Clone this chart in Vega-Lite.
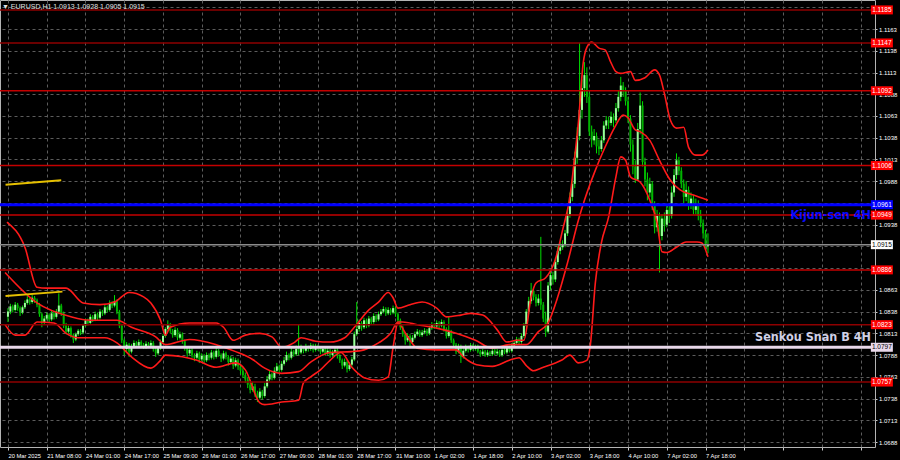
{
"$schema": "https://vega.github.io/schema/vega-lite/v6.json",
"width": 875, "height": 447,
"autosize": {"type": "none"},
"padding": {"left": 0, "top": 0, "right": 25, "bottom": 13},
"background": "#000000",
"config": {"view": {"stroke": "#b4b4b4", "strokeWidth": 1}, "axis": {"labelOverlap": false, "labelFlush": false, "labelBound": false}},
"title": {"text": "▼ EURUSD,H1  1.0913 1.0928 1.0905 1.0915", "anchor": "start", "frame": "group", "offset": -10, "fontSize": 7, "font": "Liberation Sans", "fontWeight": "normal", "color": "#e0e0e0", "dx": 2},
"datasets": {
"candles": [
{"i":0,"o":1.0832,"h":1.0842,"l":1.0826,"c":1.0838},{"i":1,"o":1.0838,"h":1.0847,"l":1.0835,"c":1.0844},{"i":2,"o":1.0844,"h":1.0846,"l":1.0837,"c":1.0840},{"i":3,"o":1.0840,"h":1.0849,"l":1.0838,"c":1.0846},{"i":4,"o":1.0846,"h":1.0848,"l":1.0839,"c":1.0842},{"i":5,"o":1.0842,"h":1.0844,"l":1.0833,"c":1.0837},{"i":6,"o":1.0837,"h":1.0845,"l":1.0835,"c":1.0843},{"i":7,"o":1.0843,"h":1.0851,"l":1.0841,"c":1.0848},{"i":8,"o":1.0848,"h":1.0856,"l":1.0846,"c":1.0852},{"i":9,"o":1.0852,"h":1.0854,"l":1.0846,"c":1.0849},
{"i":10,"o":1.0849,"h":1.0857,"l":1.0847,"c":1.0854},{"i":11,"o":1.0854,"h":1.0856,"l":1.0848,"c":1.0851},{"i":12,"o":1.0851,"h":1.0853,"l":1.0843,"c":1.0846},{"i":13,"o":1.0846,"h":1.0848,"l":1.0832,"c":1.0835},{"i":14,"o":1.0835,"h":1.0837,"l":1.0820,"c":1.0826},{"i":15,"o":1.0826,"h":1.0833,"l":1.0823,"c":1.0830},{"i":16,"o":1.0830,"h":1.0837,"l":1.0828,"c":1.0834},{"i":17,"o":1.0834,"h":1.0836,"l":1.0826,"c":1.0829},{"i":18,"o":1.0829,"h":1.0839,"l":1.0827,"c":1.0836},{"i":19,"o":1.0836,"h":1.0838,"l":1.0829,"c":1.0832},
{"i":20,"o":1.0832,"h":1.0841,"l":1.0830,"c":1.0838},{"i":21,"o":1.0838,"h":1.0859,"l":1.0835,"c":1.0845},{"i":22,"o":1.0845,"h":1.0847,"l":1.0833,"c":1.0836},{"i":23,"o":1.0836,"h":1.0838,"l":1.0819,"c":1.0822},{"i":24,"o":1.0822,"h":1.0825,"l":1.0812,"c":1.0815},{"i":25,"o":1.0815,"h":1.0822,"l":1.0813,"c":1.0819},{"i":26,"o":1.0819,"h":1.0821,"l":1.0808,"c":1.0811},{"i":27,"o":1.0811,"h":1.0813,"l":1.0802,"c":1.0806},{"i":28,"o":1.0806,"h":1.0814,"l":1.0804,"c":1.0812},{"i":29,"o":1.0812,"h":1.0818,"l":1.0810,"c":1.0816},
{"i":30,"o":1.0816,"h":1.0818,"l":1.0811,"c":1.0814},{"i":31,"o":1.0814,"h":1.0824,"l":1.0812,"c":1.0822},{"i":32,"o":1.0822,"h":1.0830,"l":1.0820,"c":1.0828},{"i":33,"o":1.0828,"h":1.0830,"l":1.0822,"c":1.0825},{"i":34,"o":1.0825,"h":1.0835,"l":1.0823,"c":1.0832},{"i":35,"o":1.0832,"h":1.0834,"l":1.0826,"c":1.0829},{"i":36,"o":1.0829,"h":1.0838,"l":1.0827,"c":1.0835},{"i":37,"o":1.0835,"h":1.0837,"l":1.0828,"c":1.0831},{"i":38,"o":1.0831,"h":1.0841,"l":1.0829,"c":1.0838},{"i":39,"o":1.0838,"h":1.0840,"l":1.0833,"c":1.0836},
{"i":40,"o":1.0836,"h":1.0846,"l":1.0834,"c":1.0843},{"i":41,"o":1.0843,"h":1.0845,"l":1.0837,"c":1.0840},{"i":42,"o":1.0840,"h":1.0851,"l":1.0838,"c":1.0848},{"i":43,"o":1.0848,"h":1.0850,"l":1.0842,"c":1.0845},{"i":44,"o":1.0845,"h":1.0857,"l":1.0843,"c":1.0850},{"i":45,"o":1.0850,"h":1.0852,"l":1.0835,"c":1.0838},{"i":46,"o":1.0838,"h":1.0840,"l":1.0819,"c":1.0822},{"i":47,"o":1.0822,"h":1.0824,"l":1.0802,"c":1.0805},{"i":48,"o":1.0805,"h":1.0807,"l":1.0788,"c":1.0795},{"i":49,"o":1.0795,"h":1.0803,"l":1.0792,"c":1.0800},
{"i":50,"o":1.0800,"h":1.0802,"l":1.0786,"c":1.0792},{"i":51,"o":1.0792,"h":1.0801,"l":1.0790,"c":1.0798},{"i":52,"o":1.0798,"h":1.0805,"l":1.0796,"c":1.0802},{"i":53,"o":1.0802,"h":1.0804,"l":1.0797,"c":1.0799},{"i":54,"o":1.0799,"h":1.0806,"l":1.0797,"c":1.0803},{"i":55,"o":1.0803,"h":1.0805,"l":1.0798,"c":1.0800},{"i":56,"o":1.0800,"h":1.0802,"l":1.0795,"c":1.0797},{"i":57,"o":1.0797,"h":1.0804,"l":1.0795,"c":1.0801},{"i":58,"o":1.0801,"h":1.0803,"l":1.0797,"c":1.0799},{"i":59,"o":1.0799,"h":1.0805,"l":1.0797,"c":1.0802},
{"i":60,"o":1.0802,"h":1.0804,"l":1.0792,"c":1.0795},{"i":61,"o":1.0795,"h":1.0797,"l":1.0786,"c":1.0790},{"i":62,"o":1.0790,"h":1.0798,"l":1.0788,"c":1.0796},{"i":63,"o":1.0796,"h":1.0806,"l":1.0794,"c":1.0803},{"i":64,"o":1.0803,"h":1.0812,"l":1.0801,"c":1.0810},{"i":65,"o":1.0810,"h":1.0820,"l":1.0808,"c":1.0818},{"i":66,"o":1.0818,"h":1.0828,"l":1.0816,"c":1.0823},{"i":67,"o":1.0823,"h":1.0825,"l":1.0813,"c":1.0816},{"i":68,"o":1.0816,"h":1.0818,"l":1.0808,"c":1.0811},{"i":69,"o":1.0811,"h":1.0820,"l":1.0809,"c":1.0817},
{"i":70,"o":1.0817,"h":1.0819,"l":1.0805,"c":1.0808},{"i":71,"o":1.0808,"h":1.0815,"l":1.0806,"c":1.0812},{"i":72,"o":1.0812,"h":1.0814,"l":1.0801,"c":1.0804},{"i":73,"o":1.0804,"h":1.0806,"l":1.0793,"c":1.0796},{"i":74,"o":1.0796,"h":1.0798,"l":1.0786,"c":1.0790},{"i":75,"o":1.0790,"h":1.0797,"l":1.0788,"c":1.0794},{"i":76,"o":1.0794,"h":1.0796,"l":1.0785,"c":1.0788},{"i":77,"o":1.0788,"h":1.0790,"l":1.0781,"c":1.0785},{"i":78,"o":1.0785,"h":1.0793,"l":1.0783,"c":1.0790},{"i":79,"o":1.0790,"h":1.0792,"l":1.0779,"c":1.0783},
{"i":80,"o":1.0783,"h":1.0790,"l":1.0781,"c":1.0787},{"i":81,"o":1.0787,"h":1.0789,"l":1.0779,"c":1.0782},{"i":82,"o":1.0782,"h":1.0791,"l":1.0780,"c":1.0788},{"i":83,"o":1.0788,"h":1.0790,"l":1.0782,"c":1.0785},{"i":84,"o":1.0785,"h":1.0794,"l":1.0783,"c":1.0791},{"i":85,"o":1.0791,"h":1.0793,"l":1.0783,"c":1.0786},{"i":86,"o":1.0786,"h":1.0797,"l":1.0784,"c":1.0793},{"i":87,"o":1.0793,"h":1.0795,"l":1.0786,"c":1.0788},{"i":88,"o":1.0788,"h":1.0790,"l":1.0780,"c":1.0784},{"i":89,"o":1.0784,"h":1.0793,"l":1.0782,"c":1.0790},
{"i":90,"o":1.0790,"h":1.0792,"l":1.0783,"c":1.0786},{"i":91,"o":1.0786,"h":1.0788,"l":1.0776,"c":1.0780},{"i":92,"o":1.0780,"h":1.0787,"l":1.0778,"c":1.0784},{"i":93,"o":1.0784,"h":1.0786,"l":1.0772,"c":1.0776},{"i":94,"o":1.0776,"h":1.0785,"l":1.0774,"c":1.0782},{"i":95,"o":1.0782,"h":1.0784,"l":1.0771,"c":1.0775},{"i":96,"o":1.0775,"h":1.0777,"l":1.0766,"c":1.0770},{"i":97,"o":1.0770,"h":1.0773,"l":1.0762,"c":1.0765},{"i":98,"o":1.0765,"h":1.0768,"l":1.0756,"c":1.0760},{"i":99,"o":1.0760,"h":1.0763,"l":1.0750,"c":1.0754},
{"i":100,"o":1.0754,"h":1.0757,"l":1.0744,"c":1.0748},{"i":101,"o":1.0748,"h":1.0757,"l":1.0746,"c":1.0752},{"i":102,"o":1.0752,"h":1.0755,"l":1.0740,"c":1.0744},{"i":103,"o":1.0744,"h":1.0747,"l":1.0734,"c":1.0739},{"i":104,"o":1.0739,"h":1.0750,"l":1.0737,"c":1.0746},{"i":105,"o":1.0746,"h":1.0748,"l":1.0737,"c":1.0741},{"i":106,"o":1.0741,"h":1.0756,"l":1.0739,"c":1.0752},{"i":107,"o":1.0752,"h":1.0764,"l":1.0750,"c":1.0760},{"i":108,"o":1.0760,"h":1.0770,"l":1.0758,"c":1.0766},{"i":109,"o":1.0766,"h":1.0768,"l":1.0759,"c":1.0762},
{"i":110,"o":1.0762,"h":1.0774,"l":1.0760,"c":1.0770},{"i":111,"o":1.0770,"h":1.0779,"l":1.0768,"c":1.0775},{"i":112,"o":1.0775,"h":1.0777,"l":1.0768,"c":1.0771},{"i":113,"o":1.0771,"h":1.0781,"l":1.0769,"c":1.0778},{"i":114,"o":1.0778,"h":1.0786,"l":1.0776,"c":1.0782},{"i":115,"o":1.0782,"h":1.0792,"l":1.0780,"c":1.0788},{"i":116,"o":1.0788,"h":1.0790,"l":1.0782,"c":1.0785},{"i":117,"o":1.0785,"h":1.0796,"l":1.0783,"c":1.0792},{"i":118,"o":1.0792,"h":1.0794,"l":1.0786,"c":1.0789},{"i":119,"o":1.0789,"h":1.0799,"l":1.0787,"c":1.0795},
{"i":120,"o":1.0795,"h":1.0823,"l":1.0788,"c":1.0791},{"i":121,"o":1.0791,"h":1.0800,"l":1.0789,"c":1.0796},{"i":122,"o":1.0796,"h":1.0798,"l":1.0790,"c":1.0793},{"i":123,"o":1.0793,"h":1.0801,"l":1.0791,"c":1.0797},{"i":124,"o":1.0797,"h":1.0799,"l":1.0792,"c":1.0795},{"i":125,"o":1.0795,"h":1.0802,"l":1.0793,"c":1.0799},{"i":126,"o":1.0799,"h":1.0801,"l":1.0791,"c":1.0794},{"i":127,"o":1.0794,"h":1.0801,"l":1.0792,"c":1.0798},{"i":128,"o":1.0798,"h":1.0800,"l":1.0793,"c":1.0796},{"i":129,"o":1.0796,"h":1.0798,"l":1.0789,"c":1.0792},
{"i":130,"o":1.0792,"h":1.0798,"l":1.0790,"c":1.0795},{"i":131,"o":1.0795,"h":1.0797,"l":1.0787,"c":1.0790},{"i":132,"o":1.0790,"h":1.0796,"l":1.0788,"c":1.0793},{"i":133,"o":1.0793,"h":1.0795,"l":1.0785,"c":1.0788},{"i":134,"o":1.0788,"h":1.0794,"l":1.0786,"c":1.0791},{"i":135,"o":1.0791,"h":1.0797,"l":1.0789,"c":1.0794},{"i":136,"o":1.0794,"h":1.0796,"l":1.0784,"c":1.0787},{"i":137,"o":1.0787,"h":1.0789,"l":1.0779,"c":1.0782},{"i":138,"o":1.0782,"h":1.0784,"l":1.0772,"c":1.0776},{"i":139,"o":1.0776,"h":1.0784,"l":1.0774,"c":1.0780},
{"i":140,"o":1.0780,"h":1.0782,"l":1.0768,"c":1.0772},{"i":141,"o":1.0772,"h":1.0780,"l":1.0770,"c":1.0777},{"i":142,"o":1.0777,"h":1.0786,"l":1.0775,"c":1.0783},{"i":143,"o":1.0783,"h":1.0815,"l":1.0781,"c":1.0812},{"i":144,"o":1.0812,"h":1.0849,"l":1.0810,"c":1.0818},{"i":145,"o":1.0818,"h":1.0829,"l":1.0815,"c":1.0825},{"i":146,"o":1.0825,"h":1.0827,"l":1.0816,"c":1.0820},{"i":147,"o":1.0820,"h":1.0831,"l":1.0818,"c":1.0828},{"i":148,"o":1.0828,"h":1.0830,"l":1.0819,"c":1.0822},{"i":149,"o":1.0822,"h":1.0833,"l":1.0820,"c":1.0830},
{"i":150,"o":1.0830,"h":1.0832,"l":1.0823,"c":1.0826},{"i":151,"o":1.0826,"h":1.0836,"l":1.0824,"c":1.0833},{"i":152,"o":1.0833,"h":1.0835,"l":1.0826,"c":1.0829},{"i":153,"o":1.0829,"h":1.0838,"l":1.0827,"c":1.0835},{"i":154,"o":1.0835,"h":1.0841,"l":1.0833,"c":1.0838},{"i":155,"o":1.0838,"h":1.0844,"l":1.0836,"c":1.0841},{"i":156,"o":1.0841,"h":1.0843,"l":1.0833,"c":1.0836},{"i":157,"o":1.0836,"h":1.0843,"l":1.0834,"c":1.0840},{"i":158,"o":1.0840,"h":1.0842,"l":1.0834,"c":1.0837},{"i":159,"o":1.0837,"h":1.0845,"l":1.0835,"c":1.0842},
{"i":160,"o":1.0842,"h":1.0844,"l":1.0832,"c":1.0835},{"i":161,"o":1.0835,"h":1.0837,"l":1.0825,"c":1.0828},{"i":162,"o":1.0828,"h":1.0830,"l":1.0817,"c":1.0820},{"i":163,"o":1.0820,"h":1.0822,"l":1.0809,"c":1.0812},{"i":164,"o":1.0812,"h":1.0814,"l":1.0800,"c":1.0805},{"i":165,"o":1.0805,"h":1.0813,"l":1.0803,"c":1.0810},{"i":166,"o":1.0810,"h":1.0812,"l":1.0797,"c":1.0803},{"i":167,"o":1.0803,"h":1.0811,"l":1.0801,"c":1.0808},{"i":168,"o":1.0808,"h":1.0815,"l":1.0806,"c":1.0812},{"i":169,"o":1.0812,"h":1.0818,"l":1.0810,"c":1.0815},
{"i":170,"o":1.0815,"h":1.0817,"l":1.0809,"c":1.0811},{"i":171,"o":1.0811,"h":1.0817,"l":1.0809,"c":1.0814},{"i":172,"o":1.0814,"h":1.0819,"l":1.0812,"c":1.0816},{"i":173,"o":1.0816,"h":1.0818,"l":1.0810,"c":1.0813},{"i":174,"o":1.0813,"h":1.0822,"l":1.0811,"c":1.0819},{"i":175,"o":1.0819,"h":1.0826,"l":1.0817,"c":1.0823},{"i":176,"o":1.0823,"h":1.0825,"l":1.0818,"c":1.0821},{"i":177,"o":1.0821,"h":1.0828,"l":1.0819,"c":1.0825},{"i":178,"o":1.0825,"h":1.0827,"l":1.0819,"c":1.0822},{"i":179,"o":1.0822,"h":1.0829,"l":1.0820,"c":1.0826},
{"i":180,"o":1.0826,"h":1.0828,"l":1.0815,"c":1.0818},{"i":181,"o":1.0818,"h":1.0820,"l":1.0807,"c":1.0810},{"i":182,"o":1.0810,"h":1.0832,"l":1.0808,"c":1.0815},{"i":183,"o":1.0815,"h":1.0817,"l":1.0802,"c":1.0805},{"i":184,"o":1.0805,"h":1.0807,"l":1.0797,"c":1.0800},{"i":185,"o":1.0800,"h":1.0802,"l":1.0789,"c":1.0792},{"i":186,"o":1.0792,"h":1.0801,"l":1.0790,"c":1.0798},{"i":187,"o":1.0798,"h":1.0800,"l":1.0779,"c":1.0786},{"i":188,"o":1.0786,"h":1.0796,"l":1.0784,"c":1.0793},{"i":189,"o":1.0793,"h":1.0800,"l":1.0791,"c":1.0797},
{"i":190,"o":1.0797,"h":1.0799,"l":1.0791,"c":1.0794},{"i":191,"o":1.0794,"h":1.0802,"l":1.0792,"c":1.0799},{"i":192,"o":1.0799,"h":1.0801,"l":1.0793,"c":1.0795},{"i":193,"o":1.0795,"h":1.0800,"l":1.0793,"c":1.0798},{"i":194,"o":1.0798,"h":1.0800,"l":1.0790,"c":1.0792},{"i":195,"o":1.0792,"h":1.0794,"l":1.0786,"c":1.0789},{"i":196,"o":1.0789,"h":1.0795,"l":1.0787,"c":1.0792},{"i":197,"o":1.0792,"h":1.0794,"l":1.0786,"c":1.0788},{"i":198,"o":1.0788,"h":1.0794,"l":1.0786,"c":1.0791},{"i":199,"o":1.0791,"h":1.0793,"l":1.0787,"c":1.0789},
{"i":200,"o":1.0789,"h":1.0795,"l":1.0787,"c":1.0793},{"i":201,"o":1.0793,"h":1.0795,"l":1.0788,"c":1.0790},{"i":202,"o":1.0790,"h":1.0795,"l":1.0788,"c":1.0792},{"i":203,"o":1.0792,"h":1.0794,"l":1.0786,"c":1.0788},{"i":204,"o":1.0788,"h":1.0797,"l":1.0786,"c":1.0794},{"i":205,"o":1.0794,"h":1.0796,"l":1.0789,"c":1.0791},{"i":206,"o":1.0791,"h":1.0800,"l":1.0789,"c":1.0797},{"i":207,"o":1.0797,"h":1.0799,"l":1.0791,"c":1.0793},{"i":208,"o":1.0793,"h":1.0802,"l":1.0791,"c":1.0799},{"i":209,"o":1.0799,"h":1.0805,"l":1.0797,"c":1.0802},
{"i":210,"o":1.0802,"h":1.0809,"l":1.0800,"c":1.0806},{"i":211,"o":1.0806,"h":1.0808,"l":1.0800,"c":1.0803},{"i":212,"o":1.0803,"h":1.0813,"l":1.0801,"c":1.0810},{"i":213,"o":1.0810,"h":1.0825,"l":1.0808,"c":1.0822},{"i":214,"o":1.0822,"h":1.0841,"l":1.0820,"c":1.0838},{"i":215,"o":1.0838,"h":1.0855,"l":1.0835,"c":1.0850},{"i":216,"o":1.0850,"h":1.0871,"l":1.0847,"c":1.0862},{"i":217,"o":1.0862,"h":1.0866,"l":1.0851,"c":1.0855},{"i":218,"o":1.0855,"h":1.0858,"l":1.0844,"c":1.0848},{"i":219,"o":1.0848,"h":1.0858,"l":1.0845,"c":1.0853},
{"i":220,"o":1.0853,"h":1.0924,"l":1.0840,"c":1.0846},{"i":221,"o":1.0846,"h":1.0849,"l":1.0826,"c":1.0830},{"i":222,"o":1.0830,"h":1.0838,"l":1.0809,"c":1.0815},{"i":223,"o":1.0815,"h":1.0872,"l":1.0813,"c":1.0868},{"i":224,"o":1.0868,"h":1.0886,"l":1.0863,"c":1.0880},{"i":225,"o":1.0880,"h":1.0884,"l":1.0869,"c":1.0875},{"i":226,"o":1.0875,"h":1.0900,"l":1.0872,"c":1.0895},{"i":227,"o":1.0895,"h":1.0913,"l":1.0892,"c":1.0908},{"i":228,"o":1.0908,"h":1.0918,"l":1.0904,"c":1.0912},{"i":229,"o":1.0912,"h":1.0920,"l":1.0909,"c":1.0915},
{"i":230,"o":1.0915,"h":1.0932,"l":1.0912,"c":1.0928},{"i":231,"o":1.0928,"h":1.0955,"l":1.0925,"c":1.0950},{"i":232,"o":1.0950,"h":1.0975,"l":1.0946,"c":1.0970},{"i":233,"o":1.0970,"h":1.0990,"l":1.0965,"c":1.0985},{"i":234,"o":1.0985,"h":1.1022,"l":1.0980,"c":1.1015},{"i":235,"o":1.1015,"h":1.1050,"l":1.1008,"c":1.1040},{"i":236,"o":1.1040,"h":1.1147,"l":1.1035,"c":1.1070},{"i":237,"o":1.1070,"h":1.1105,"l":1.1060,"c":1.1095},{"i":238,"o":1.1095,"h":1.1125,"l":1.1085,"c":1.1110},{"i":239,"o":1.1110,"h":1.1119,"l":1.1078,"c":1.1085},
{"i":240,"o":1.1085,"h":1.1090,"l":1.1040,"c":1.1045},{"i":241,"o":1.1045,"h":1.1052,"l":1.1027,"c":1.1035},{"i":242,"o":1.1035,"h":1.1048,"l":1.1030,"c":1.1040},{"i":243,"o":1.1040,"h":1.1044,"l":1.1020,"c":1.1028},{"i":244,"o":1.1028,"h":1.1036,"l":1.1018,"c":1.1025},{"i":245,"o":1.1025,"h":1.1040,"l":1.1022,"c":1.1035},{"i":246,"o":1.1035,"h":1.1057,"l":1.1032,"c":1.1052},{"i":247,"o":1.1052,"h":1.1063,"l":1.1048,"c":1.1058},{"i":248,"o":1.1058,"h":1.1062,"l":1.1048,"c":1.1055},{"i":249,"o":1.1055,"h":1.1068,"l":1.1052,"c":1.1062},
{"i":250,"o":1.1062,"h":1.1066,"l":1.1050,"c":1.1058},{"i":251,"o":1.1058,"h":1.1078,"l":1.1055,"c":1.1072},{"i":252,"o":1.1072,"h":1.1092,"l":1.1068,"c":1.1085},{"i":253,"o":1.1085,"h":1.1108,"l":1.1080,"c":1.1098},{"i":254,"o":1.1098,"h":1.1102,"l":1.1085,"c":1.1092},{"i":255,"o":1.1092,"h":1.1096,"l":1.1075,"c":1.1080},{"i":256,"o":1.1080,"h":1.1085,"l":1.1055,"c":1.1060},{"i":257,"o":1.1060,"h":1.1064,"l":1.1022,"c":1.1030},{"i":258,"o":1.1030,"h":1.1036,"l":1.0996,"c":1.1005},{"i":259,"o":1.1005,"h":1.1012,"l":1.0986,"c":1.0990},
{"i":260,"o":1.0990,"h":1.1055,"l":1.0988,"c":1.1048},{"i":261,"o":1.1048,"h":1.1090,"l":1.1042,"c":1.1075},{"i":262,"o":1.1075,"h":1.1080,"l":1.1005,"c":1.1010},{"i":263,"o":1.1010,"h":1.1015,"l":1.0982,"c":1.0990},{"i":264,"o":1.0990,"h":1.0998,"l":1.0966,"c":1.0975},{"i":265,"o":1.0975,"h":1.0992,"l":1.0970,"c":1.0985},{"i":266,"o":1.0985,"h":1.0988,"l":1.0955,"c":1.0960},{"i":267,"o":1.0960,"h":1.0965,"l":1.0928,"c":1.0935},{"i":268,"o":1.0935,"h":1.0955,"l":1.0930,"c":1.0948},{"i":269,"o":1.0948,"h":1.0952,"l":1.0883,"c":1.0925},
{"i":270,"o":1.0925,"h":1.0950,"l":1.0920,"c":1.0945},{"i":271,"o":1.0945,"h":1.0952,"l":1.0930,"c":1.0938},{"i":272,"o":1.0938,"h":1.0962,"l":1.0935,"c":1.0955},{"i":273,"o":1.0955,"h":1.0960,"l":1.0940,"c":1.0948},{"i":274,"o":1.0948,"h":1.0982,"l":1.0945,"c":1.0975},{"i":275,"o":1.0975,"h":1.1002,"l":1.0970,"c":1.0995},{"i":276,"o":1.0995,"h":1.1020,"l":1.0990,"c":1.1012},{"i":277,"o":1.1012,"h":1.1016,"l":1.0995,"c":1.1000},{"i":278,"o":1.1000,"h":1.1004,"l":1.0980,"c":1.0985},{"i":279,"o":1.0985,"h":1.0990,"l":1.0962,"c":1.0970},
{"i":280,"o":1.0970,"h":1.0988,"l":1.0965,"c":1.0978},{"i":281,"o":1.0978,"h":1.0982,"l":1.0955,"c":1.0960},{"i":282,"o":1.0960,"h":1.0975,"l":1.0956,"c":1.0968},{"i":283,"o":1.0968,"h":1.0972,"l":1.0950,"c":1.0955},{"i":284,"o":1.0955,"h":1.0968,"l":1.0950,"c":1.0962},{"i":285,"o":1.0962,"h":1.0966,"l":1.0943,"c":1.0948},{"i":286,"o":1.0948,"h":1.0955,"l":1.0935,"c":1.0940},{"i":287,"o":1.0940,"h":1.0944,"l":1.0922,"c":1.0928},{"i":288,"o":1.0928,"h":1.0932,"l":1.0910,"c":1.0913},{"i":289,"o":1.0913,"h":1.0928,"l":1.0905,"c":1.0915}
],
"bands": [
{"i":-0.4,"p":1.0941,"s":"u"},{"i":7,"p":1.0912,"s":"u"},{"i":12,"p":1.0866,"s":"u"},{"i":16,"p":1.0865,"s":"u"},{"i":24,"p":1.0865,"s":"u"},{"i":31,"p":1.0848,"s":"u"},{"i":38,"p":1.0846,"s":"u"},{"i":44,"p":1.0849,"s":"u"},{"i":50,"p":1.0860,"s":"u"},{"i":56,"p":1.0855,"s":"u"},{"i":59,"p":1.0848,"s":"u"},{"i":63,"p":1.0828,"s":"u"},{"i":65,"p":1.0811,"s":"u"},{"i":67,"p":1.0820,"s":"u"},{"i":75,"p":1.0825,"s":"u"},{"i":86,"p":1.0825,"s":"u"},{"i":89,"p":1.0820,"s":"u"},{"i":93,"p":1.0805,"s":"u"},{"i":98,"p":1.0811,"s":"u"},{"i":104,"p":1.0813,"s":"u"},{"i":109,"p":1.0809,"s":"u"},{"i":113,"p":1.0797,"s":"u"},{"i":118,"p":1.0802,"s":"u"},{"i":121,"p":1.0808,"s":"u"},{"i":127,"p":1.0804,"s":"u"},{"i":133,"p":1.0803,"s":"u"},{"i":139,"p":1.0808,"s":"u"},{"i":143,"p":1.0820,"s":"u"},{"i":149,"p":1.0840,"s":"u"},{"i":153,"p":1.0849,"s":"u"},{"i":157,"p":1.0860,"s":"u"},{"i":159,"p":1.0854,"s":"u"},{"i":161,"p":1.0842,"s":"u"},{"i":166,"p":1.0846,"s":"u"},{"i":171,"p":1.0849,"s":"u"},{"i":177,"p":1.0842,"s":"u"},{"i":181,"p":1.0832,"s":"u"},{"i":187,"p":1.0834,"s":"u"},{"i":191,"p":1.0836,"s":"u"},{"i":196,"p":1.0834,"s":"u"},{"i":202,"p":1.0817,"s":"u"},{"i":206,"p":1.0803,"s":"u"},{"i":210,"p":1.0805,"s":"u"},{"i":213,"p":1.0805,"s":"u"},{"i":216,"p":1.0855,"s":"u"},{"i":218,"p":1.0871,"s":"u"},{"i":222,"p":1.0877,"s":"u"},{"i":226,"p":1.0898,"s":"u"},{"i":229,"p":1.0932,"s":"u"},{"i":232,"p":1.0970,"s":"u"},{"i":234,"p":1.1016,"s":"u"},{"i":235.5,"p":1.1055,"s":"u"},{"i":237.5,"p":1.1124,"s":"u"},{"i":239,"p":1.1142,"s":"u"},{"i":241,"p":1.1148,"s":"u"},{"i":244,"p":1.1141,"s":"u"},{"i":246.5,"p":1.1139,"s":"u"},{"i":249,"p":1.1124,"s":"u"},{"i":251,"p":1.1114,"s":"u"},{"i":253,"p":1.1112,"s":"u"},{"i":257,"p":1.1114,"s":"u"},{"i":259,"p":1.1104,"s":"u"},{"i":263,"p":1.1107,"s":"u"},{"i":267,"p":1.1116,"s":"u"},{"i":269,"p":1.1110,"s":"u"},{"i":271,"p":1.1089,"s":"u"},{"i":273.5,"p":1.1058,"s":"u"},{"i":276,"p":1.1049,"s":"u"},{"i":279,"p":1.1050,"s":"u"},{"i":281,"p":1.1027,"s":"u"},{"i":284,"p":1.1018,"s":"u"},{"i":286.5,"p":1.1018,"s":"u"},{"i":289,"p":1.1024,"s":"u"},
{"i":-1.2,"p":1.0883,"s":"m"},{"i":12,"p":1.0848,"s":"m"},{"i":26,"p":1.0832,"s":"m"},{"i":34,"p":1.0828,"s":"m"},{"i":45,"p":1.0828,"s":"m"},{"i":51,"p":1.0820,"s":"m"},{"i":61,"p":1.0809,"s":"m"},{"i":65,"p":1.0800,"s":"m"},{"i":75,"p":1.0806,"s":"m"},{"i":86,"p":1.0800,"s":"m"},{"i":94,"p":1.0792,"s":"m"},{"i":101,"p":1.0783,"s":"m"},{"i":106,"p":1.0773,"s":"m"},{"i":113,"p":1.0767,"s":"m"},{"i":120,"p":1.0769,"s":"m"},{"i":125,"p":1.0780,"s":"m"},{"i":133,"p":1.0791,"s":"m"},{"i":142,"p":1.0792,"s":"m"},{"i":147,"p":1.0794,"s":"m"},{"i":153,"p":1.0802,"s":"m"},{"i":158,"p":1.0813,"s":"m"},{"i":161,"p":1.0826,"s":"m"},{"i":163,"p":1.0826,"s":"m"},{"i":169,"p":1.0823,"s":"m"},{"i":177,"p":1.0819,"s":"m"},{"i":185,"p":1.0813,"s":"m"},{"i":193,"p":1.0805,"s":"m"},{"i":200,"p":1.0796,"s":"m"},{"i":207,"p":1.0800,"s":"m"},{"i":214,"p":1.0800,"s":"m"},{"i":219,"p":1.0815,"s":"m"},{"i":223,"p":1.0825,"s":"m"},{"i":227,"p":1.0855,"s":"m"},{"i":231,"p":1.0894,"s":"m"},{"i":235.5,"p":1.0943,"s":"m"},{"i":238,"p":1.0966,"s":"m"},{"i":242,"p":1.0997,"s":"m"},{"i":246.5,"p":1.1027,"s":"m"},{"i":250.5,"p":1.1050,"s":"m"},{"i":254,"p":1.1064,"s":"m"},{"i":256,"p":1.1061,"s":"m"},{"i":259,"p":1.1047,"s":"m"},{"i":261,"p":1.1045,"s":"m"},{"i":265,"p":1.1035,"s":"m"},{"i":269,"p":1.1012,"s":"m"},{"i":273.5,"p":1.0989,"s":"m"},{"i":277.5,"p":1.0978,"s":"m"},{"i":283,"p":1.0972,"s":"m"},{"i":289,"p":1.0966,"s":"m"},
{"i":-1.2,"p":1.0823,"s":"l"},{"i":3,"p":1.0811,"s":"l"},{"i":7,"p":1.0811,"s":"l"},{"i":12,"p":1.0826,"s":"l"},{"i":19,"p":1.0825,"s":"l"},{"i":24,"p":1.0813,"s":"l"},{"i":29,"p":1.0808,"s":"l"},{"i":40,"p":1.0808,"s":"l"},{"i":45,"p":1.0802,"s":"l"},{"i":51,"p":1.0786,"s":"l"},{"i":59,"p":1.0773,"s":"l"},{"i":63,"p":1.0782,"s":"l"},{"i":65,"p":1.0788,"s":"l"},{"i":72,"p":1.0786,"s":"l"},{"i":78,"p":1.0782,"s":"l"},{"i":86,"p":1.0774,"s":"l"},{"i":94,"p":1.0779,"s":"l"},{"i":98,"p":1.0771,"s":"l"},{"i":104,"p":1.0733,"s":"l"},{"i":106,"p":1.0731,"s":"l"},{"i":113,"p":1.0734,"s":"l"},{"i":120,"p":1.0736,"s":"l"},{"i":122,"p":1.0756,"s":"l"},{"i":125,"p":1.0763,"s":"l"},{"i":129,"p":1.0771,"s":"l"},{"i":133,"p":1.0782,"s":"l"},{"i":137.5,"p":1.0791,"s":"l"},{"i":142,"p":1.0774,"s":"l"},{"i":144.5,"p":1.0767,"s":"l"},{"i":147,"p":1.0762,"s":"l"},{"i":153,"p":1.0759,"s":"l"},{"i":157,"p":1.0763,"s":"l"},{"i":159,"p":1.0797,"s":"l"},{"i":161,"p":1.0825,"s":"l"},{"i":165,"p":1.0809,"s":"l"},{"i":169,"p":1.0796,"s":"l"},{"i":177,"p":1.0794,"s":"l"},{"i":185,"p":1.0794,"s":"l"},{"i":188,"p":1.0786,"s":"l"},{"i":193.5,"p":1.0777,"s":"l"},{"i":200,"p":1.0775,"s":"l"},{"i":207,"p":1.0782,"s":"l"},{"i":211,"p":1.0785,"s":"l"},{"i":214,"p":1.0776,"s":"l"},{"i":217,"p":1.0770,"s":"l"},{"i":220,"p":1.0773,"s":"l"},{"i":228.5,"p":1.0782,"s":"l"},{"i":232,"p":1.0788,"s":"l"},{"i":235.5,"p":1.0779,"s":"l"},{"i":239,"p":1.0782,"s":"l"},{"i":240.5,"p":1.0801,"s":"l"},{"i":242.5,"p":1.0871,"s":"l"},{"i":245,"p":1.0917,"s":"l"},{"i":248,"p":1.0947,"s":"l"},{"i":251,"p":1.0993,"s":"l"},{"i":253,"p":1.1016,"s":"l"},{"i":255,"p":1.1012,"s":"l"},{"i":257,"p":1.0993,"s":"l"},{"i":261,"p":1.0987,"s":"l"},{"i":265,"p":1.0966,"s":"l"},{"i":268,"p":1.0940,"s":"l"},{"i":270,"p":1.0907,"s":"l"},{"i":272,"p":1.0906,"s":"l"},{"i":276,"p":1.0912,"s":"l"},{"i":280,"p":1.0918,"s":"l"},{"i":284.5,"p":1.0918,"s":"l"},{"i":286.5,"p":1.0917,"s":"l"},{"i":289,"p":1.0901,"s":"l"}
],
"yellow": [
{"i":-1.0,"p":1.0984,"s":"a"},{"i":22,"p":1.0989,"s":"a"},
{"i":-1.0,"p":1.0856,"s":"b"},{"i":22.5,"p":1.0861,"s":"b"}
],
"levels": [
{"p":1.1185,"k":"red2","b":"r","t":"1.1185"},
{"p":1.1147,"k":"red2","b":"r","t":"1.1147"},
{"p":1.1092,"k":"red","b":"r","t":"1.1092"},
{"p":1.1006,"k":"red","b":"r","t":"1.1006"},
{"p":1.0961,"k":"kijun","b":"b","t":"1.0961"},
{"p":1.0949,"k":"red","b":"r","t":"1.0949"},
{"p":1.0915,"k":"bid","b":"w","t":"1.0915"},
{"p":1.0886,"k":"red","b":"r","t":"1.0886"},
{"p":1.0823,"k":"red2","b":"r","t":"1.0823"},
{"p":1.0797,"k":"senkou","b":"s","t":"1.0797"},
{"p":1.0757,"k":"red2","b":"r","t":"1.0757"}
],
"texts": [
{"t":"Kijun-sen 4H","p":1.0961,"k":"kijun"},
{"t":"Senkou Snan B 4H","p":1.0797,"k":"senkou"}
]
},
"layer": [
{
"data": {"name": "candles"},
"mark": {"type": "rule", "strokeWidth": 1},
"encoding": {
"x": {"field": "i", "type": "quantitative", "title": null, "scale": {"domain": [-1.22, 355.9], "nice": false, "zero": false},
"axis": {"values": [0,16,32,48,64,80,96,112,128,144,160,176,192,208,224,240,256,272,288,304,320,336,352], "tickCount": 200,
"labelExpr": "['20 Mar 2025','21 Mar 08:00','24 Mar 01:00','24 Mar 17:00','25 Mar 09:00','26 Mar 01:00','26 Mar 17:00','27 Mar 09:00','28 Mar 01:00','28 Mar 17:00','31 Mar 10:00','1 Apr 02:00','1 Apr 18:00','2 Apr 10:00','3 Apr 02:00','3 Apr 18:00','4 Apr 10:00','7 Apr 02:00','7 Apr 18:00'][round(datum.value/16)] || ''",
"title": null, "grid": true, "gridColor": "#5c5c5c", "gridDash": [3, 3], "gridWidth": 1, "domain": false,
"ticks": true, "tickColor": "#c8c8c8", "tickSize": 3, "labelColor": "#ffffff", "labelFont": "Liberation Sans", "labelFontSize": 5.8,
"labelAlign": "left", "labelPadding": 2, "labelFlush": false, "labelOverlap": false, "labelBound": false}},
"y": {"field": "l", "type": "quantitative", "title": null, "scale": {"domain": [1.06823, 1.11964], "nice": false, "zero": false},
"axis": {"orient": "right", "values": [1.0688,1.0713,1.0738,1.0763,1.0788,1.0813,1.0838,1.0863,1.0888,1.0913,1.0938,1.0963,1.0988,1.1013,1.1038,1.1063,1.1088,1.1113,1.1138,1.1163,1.1188], "tickCount": 200,
"labelExpr": "(abs(datum.value-1.1188)<0.0001 || abs(datum.value-1.0963)<0.0001 || abs(datum.value-1.0913)<0.0001 || abs(datum.value-1.0888)<0.0001) ? '' : format(datum.value, '.4f')",
"title": null, "grid": true, "gridColor": "#5c5c5c", "gridDash": [3, 3], "gridWidth": 1, "domain": false,
"tickColor": "#c8c8c8", "tickSize": 2, "labelColor": "#ffffff", "labelFont": "Liberation Sans", "labelFontSize": 6, "labelPadding": 1.5, "labelOverlap": false, "labelFlush": false, "labelBound": false}},
"y2": {"field": "h"},
"color": {"value": "#00e000"}
}
},
{
"data": {"name": "candles"},
"mark": {"type": "bar", "size": 2},
"encoding": {
"x": {"field": "i", "type": "quantitative", "title": null},
"y": {"field": "o", "type": "quantitative", "title": null},
"y2": {"field": "c"},
"color": {"condition": {"test": "datum.c >= datum.o", "value": "#9cff9c"}, "value": "#00b400"}
}
},
{
"data": {"name": "bands"},
"mark": {"type": "line", "strokeWidth": 1.6, "color": "#ff1a1a", "interpolate": "monotone"},
"encoding": {
"x": {"field": "i", "type": "quantitative", "title": null},
"y": {"field": "p", "type": "quantitative", "title": null},
"detail": {"field": "s"}
}
},
{
"data": {"name": "yellow"},
"mark": {"type": "line", "strokeWidth": 2, "color": "#e6c000"},
"encoding": {
"x": {"field": "i", "type": "quantitative", "title": null},
"y": {"field": "p", "type": "quantitative", "title": null},
"detail": {"field": "s"}
}
},
{
"data": {"name": "levels"},
"mark": {"type": "rule"},
"encoding": {
"y": {"field": "p", "type": "quantitative", "title": null},
"color": {"condition": [
{"test": "datum.k == 'kijun'", "value": "#0000ff"},
{"test": "datum.k == 'senkou'", "value": "#e8d8ea"},
{"test": "datum.k == 'bid'", "value": "#8c8c8c"},
{"test": "datum.k == 'red2'", "value": "#8e0000"}
], "value": "#c40000"},
"strokeWidth": {"condition": {"test": "datum.k == 'kijun' || datum.k == 'senkou'", "value": 3}, "value": 1.5}
}
},
{
"data": {"name": "texts"},
"transform": [{"filter": "datum.k == 'kijun'"}],
"mark": {"type": "text", "align": "right", "baseline": "alphabetic", "dy": 14, "fontSize": 12.5, "fontWeight": "bold", "font": "Liberation Sans Narrow, DejaVu Sans Condensed, Liberation Sans", "color": "#0a0aff"},
"encoding": {
"x": {"datum": 356.3, "type": "quantitative", "title": null},
"y": {"field": "p", "type": "quantitative", "title": null},
"text": {"field": "t"}
}
},
{
"data": {"name": "texts"},
"transform": [{"filter": "datum.k == 'senkou'"}],
"mark": {"type": "text", "align": "right", "baseline": "alphabetic", "dy": -6, "fontSize": 12.5, "fontWeight": "bold", "font": "Liberation Sans Narrow, DejaVu Sans Condensed, Liberation Sans", "color": "#d0d0e6"},
"encoding": {
"x": {"datum": 356.3, "type": "quantitative", "title": null},
"y": {"field": "p", "type": "quantitative", "title": null},
"text": {"field": "t"}
}
},
{
"data": {"name": "levels"},
"mark": {"type": "tick", "orient": "horizontal", "size": 22, "thickness": 9, "opacity": 1},
"encoding": {
"x": {"datum": 360.8, "type": "quantitative", "title": null},
"y": {"field": "p", "type": "quantitative", "title": null},
"color": {"condition": [
{"test": "datum.b == 'b'", "value": "#0000ff"},
{"test": "datum.b == 'w'", "value": "#ffffff"},
{"test": "datum.b == 's'", "value": "#e8d8ea"}
], "value": "#ff0000"}
}
},
{
"data": {"name": "levels"},
"mark": {"type": "text", "align": "center", "baseline": "middle", "fontSize": 6.5, "font": "Liberation Sans"},
"encoding": {
"x": {"datum": 360.8, "type": "quantitative", "title": null},
"y": {"field": "p", "type": "quantitative", "title": null},
"text": {"field": "t"},
"color": {"condition": {"test": "datum.b == 'w' || datum.b == 's'", "value": "#000000"}, "value": "#ffffff"}
}
}
]
}
